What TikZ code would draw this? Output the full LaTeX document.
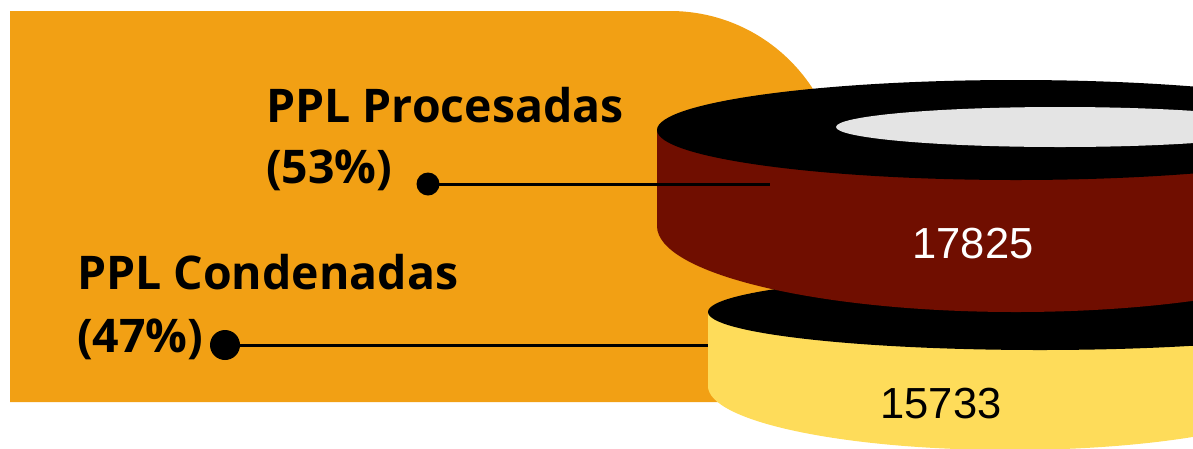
\documentclass[tikz,border=0pt]{standalone}
\usepackage{fontspec}
\newfontfamily\labfont{Open Sans}
\newfontfamily\numfont{Liberation Sans}
\definecolor{orangec}{RGB}{242,160,20}
\definecolor{redc}{RGB}{112,14,0}
\definecolor{yellowc}{RGB}{254,220,90}
\definecolor{grayc}{RGB}{228,228,228}
\tikzset{
  labtext/.style={anchor=base west, inner sep=0pt, font=\labfont\bfseries\fontsize{46.4}{56}\selectfont, text=black},
  numtext/.style={anchor=base, inner sep=0pt, font=\numfont\fontsize{43.5}{50}\selectfont},
  dotc/.style={circle, fill=black, inner sep=0pt},
  conn/.style={line width=3pt, black}
}
\begin{document}
\begin{tikzpicture}[x=1pt,y=-1pt]
\useasboundingbox (0,0) rectangle (1193,448);
\clip (0,0) rectangle (1193,448);
% orange panel
\fill[orangec] (10,11) -- (670,11) arc[start angle=-90, end angle=0, radius=170] -- (840,402) -- (10,402) -- cycle;
% yellow cylinder
\fill[yellowc] (708,312) rectangle (1372,386);
\fill[yellowc] (1010,386) ellipse [x radius=302, y radius=64];
\fill[yellowc] (1040,386) ellipse [x radius=332, y radius=50];
\fill[black] (1040,312) ellipse [x radius=332, y radius=38];
% dark red cylinder
\fill[redc] (657,130) rectangle (1375,226);
\fill[redc] (1016,226) ellipse [x radius=359, y radius=86];
\fill[black] (1016,130) ellipse [x radius=359, y radius=50];
\fill[grayc] (1060,127) ellipse [x radius=224, y radius=20];
% numbers
\node[numtext, text=white] (n1) at (973,258) {17825};
\node[numtext, text=black] (n2) at (941,418) {15733};
% labels
\node[labtext] (l1a) at (266,122) {PPL Procesadas};
\node[labtext] (l1b) at (266,183) {(53\%)};
\node[labtext] (l2a) at (77,289) {PPL Condenadas};
\node[labtext] (l2b) at (77,352) {(47\%)};
% connectors
\node[dotc, minimum size=23pt] (d1) at (428,184) {};
\node[dotc, minimum size=30pt] (d2) at (225,345) {};
\coordinate (e1) at (770,184);
\coordinate (e2) at (708,345);
\draw[conn] (d1.center) -- (e1);
\draw[conn] (d2.center) -- (e2);
\end{tikzpicture}
\end{document}
